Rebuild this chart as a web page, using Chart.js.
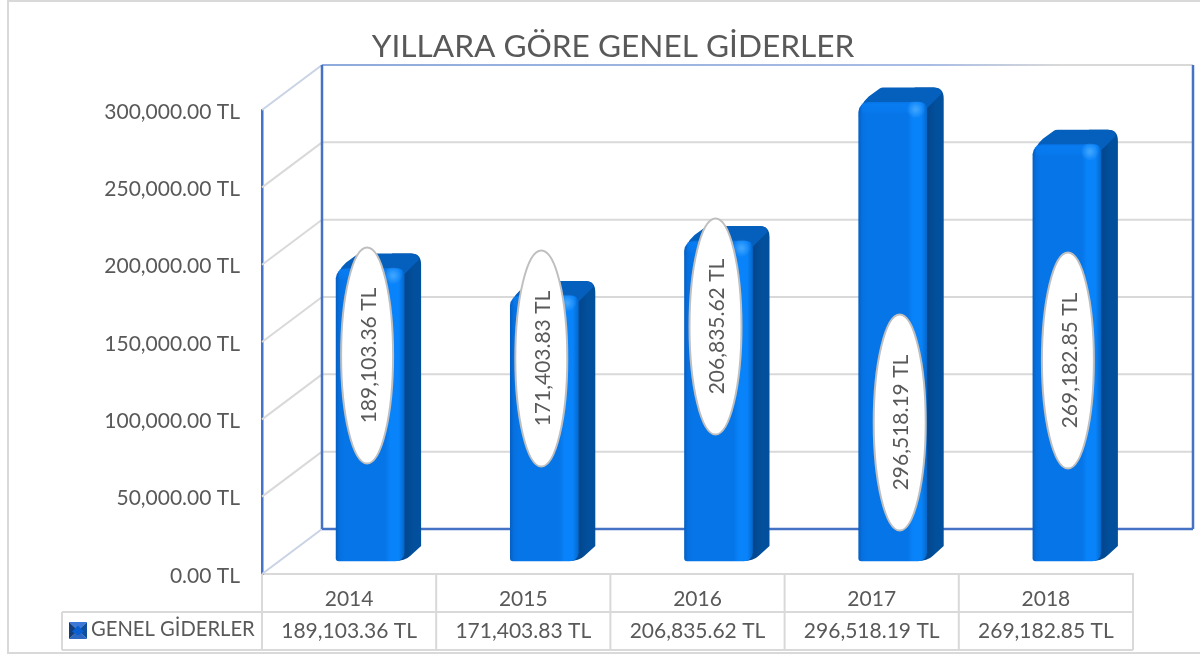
<!DOCTYPE html>
<html>
<head>
<meta charset="utf-8">
<title>Yıllara Göre Genel Giderler</title>
<script src="https://cdn.jsdelivr.net/npm/chart.js@4/dist/chart.umd.min.js"></script>
<style>
	html, body { margin:0; padding:0; background:#fff; }
	canvas { display:block; }
</style>
</head>
<body>
<canvas id="chart" width="1200" height="656"></canvas>
<script>
//data
const titleText = 'YILLARA GÖRE GENEL GİDERLER';
const seriesName = 'GENEL GİDERLER';
const years = ['2014','2015','2016','2017','2018'];
const genelGiderler = [189103.36,171403.83,206835.62,296518.19,269182.85];
const axisMax = 300000;
const axisStep = 50000;

//looks
const fontName = 'Lato, Carlito, sans-serif';
const textColor = '#595959';
const gridColor = '#d9d9d9';
const axisBlue = '#4472c4';
const wallDepth = [60,-45];   //back wall offset from the front axis
const barShift = [21,-13];    //bars stand a bit inside the floor
const barDepth = [17,-15];    //extrusion of each bar
const barWidth = 68;
const labelSize = 21;
const tableFont = labelSize + 'px ' + fontName;
//bubble centres: distance from the category centre, height on the page
const bubbleDx = [18,18,18,28,22];
const bubbleY = [355.5,358.5,326.5,422.5,360.5];

function money(v){
	return v.toLocaleString('en-US',{minimumFractionDigits:2,maximumFractionDigits:2}) + ' TL';
}

function line(ctx,x1,y1,x2,y2,color,width){
	ctx.beginPath();
	ctx.moveTo(x1,y1);
	ctx.lineTo(x2,y2);
	ctx.strokeStyle = color;
	ctx.lineWidth = width;
	ctx.stroke();
}

//back wall and side wall, drawn from the value scale
const wallsPlugin = {
	id:'walls',
	beforeDatasetsDraw(chart){
		const ctx = chart.ctx;
		const y = chart.scales.y;
		const area = chart.chartArea;
		const dx = wallDepth[0];
		const dy = wallDepth[1];
		ctx.save();

		//page frame
		ctx.strokeStyle = gridColor;
		ctx.lineWidth = 2;
		ctx.strokeRect(8,1,1300,652);

		for(let v=axisStep ; v<axisMax ; v+=axisStep){
			const py = y.getPixelForValue(v);
			line(ctx,area.left,py,area.left+dx,py+dy,gridColor,2);
			line(ctx,area.left+dx,py+dy,area.right+dx,py+dy,gridColor,2);
		}

		const top = y.getPixelForValue(axisMax);
		const bottom = y.getPixelForValue(0);
		line(ctx,area.left,top,area.left+dx,top+dy,'#c9d3e6',2);
		line(ctx,area.left,bottom,area.left+dx,bottom+dy,'#c9d3e6',2);

		const topLine = ctx.createLinearGradient(area.left+dx,0,area.right+dx,0);
		topLine.addColorStop(0,'#8faadc');
		topLine.addColorStop(0.7,'#a9bde4');
		topLine.addColorStop(0.85,gridColor);
		topLine.addColorStop(1,gridColor);
		line(ctx,area.left+dx,top+dy,area.right+dx,top+dy,topLine,2);

		line(ctx,area.left+dx,top+dy,area.left+dx,bottom+dy,axisBlue,2.5);
		line(ctx,area.right+dx,top+dy,area.right+dx,bottom+dy,axisBlue,2.5);
		line(ctx,area.left+dx,bottom+dy,area.right+dx,bottom+dy,axisBlue,2.5);
		ctx.restore();
	}
};

//side and top of every bar, the front face is the real bar element
const barBodyPlugin = {
	id:'barBody',
	beforeDatasetDraw(chart,args){
		const ctx = chart.ctx;
		const dx = barDepth[0];
		const dy = barDepth[1];
		ctx.save();
		ctx.translate(barShift[0],barShift[1]);

		args.meta.data.forEach(function(bar){
			const l = bar.x - bar.width/2;
			const r = bar.x + bar.width/2;
			const t = bar.y;
			const b = bar.base;

			//side
			const side = ctx.createLinearGradient(r-3,0,r+dx,0);
			side.addColorStop(0,'#04509f');
			side.addColorStop(0.25,'#03478f');
			side.addColorStop(0.6,'#024f9c');
			side.addColorStop(1,'#02509e');
			ctx.beginPath();
			ctx.moveTo(r-10,b);
			ctx.quadraticCurveTo(r+1,b,r+6,b-5);
			ctx.lineTo(r+dx,b+dy);
			ctx.lineTo(r+dx,t+dy+11);
			ctx.quadraticCurveTo(r+dx,t+dy,r+dx-10,t+dy);
			ctx.lineTo(r-12,t+dy);
			ctx.closePath();
			ctx.fillStyle = side;
			ctx.fill();

			//top
			ctx.beginPath();
			ctx.moveTo(l,t+14);
			ctx.quadraticCurveTo(l,t+3,l+10,t-6);
			ctx.lineTo(l+21,t+dy+1);
			ctx.quadraticCurveTo(l+22,t+dy,l+25,t+dy);
			ctx.lineTo(r+dx-10,t+dy);
			ctx.quadraticCurveTo(r+dx-2,t+dy,r+dx-2,t+dy+6);
			ctx.lineTo(r-2,t+8);
			ctx.closePath();
			ctx.fillStyle = '#055fbc';
			ctx.fill();
		});
	},
	afterDatasetDraw(chart,args){
		const ctx = chart.ctx;
		args.meta.data.forEach(function(bar){
			const r = bar.x + bar.width/2;
			const t = bar.y;
			const l = bar.x - bar.width/2;

			//bevel along the top edge
			const rim = ctx.createLinearGradient(0,t,0,t+12);
			rim.addColorStop(0,'rgba(10,130,250,0.55)');
			rim.addColorStop(0.7,'rgba(10,130,250,0.35)');
			rim.addColorStop(1,'rgba(10,130,250,0)');
			ctx.fillStyle = rim;
			ctx.fillRect(l+3,t+1,bar.width-5,11);

			//corner shine
			const shine = ctx.createRadialGradient(r-11,t+7,1,r-11,t+7,9);
			shine.addColorStop(0,'rgba(70,170,255,0.85)');
			shine.addColorStop(1,'rgba(70,170,255,0)');
			ctx.fillStyle = shine;
			ctx.fillRect(r-20,t-2,18,18);
		});
		ctx.restore();
	}
};

//table under the plot, white bubbles over the bars
const tablePlugin = {
	id:'tableAndBubbles',
	afterDatasetsDraw(chart){
		const ctx = chart.ctx;
		const area = chart.chartArea;
		const x = chart.scales.x;
		const colWidth = area.width/years.length;
		const row1 = area.bottom + 38;
		const row2 = area.bottom + 76;
		ctx.save();

		line(ctx,area.left-200,row1,area.right,row1,gridColor,2);
		line(ctx,area.left-200,row2,area.right,row2,gridColor,2);
		line(ctx,area.left-200,row1,area.left-200,row2,gridColor,2);
		for(let i=0 ; i<=years.length ; i++){
			const px = area.left + colWidth*i;
			line(ctx,px,area.bottom,px,row2,gridColor,2);
		}

		ctx.font = tableFont;
		ctx.fillStyle = textColor;
		ctx.textAlign = 'center';
		ctx.textBaseline = 'middle';
		for(let i=0 ; i<years.length ; i++){
			ctx.fillText(money(genelGiderler[i]),x.getPixelForValue(i),(row1+row2)/2);
		}

		//legend key and series name
		ctx.textAlign = 'left';
		ctx.font = '20.2px ' + fontName;
		ctx.fillText(seriesName,91,(row1+row2)/2-2);
		drawKey(ctx,69,622,18,17);

		//bubbles
		for(let i=0 ; i<years.length ; i++){
			const cx = x.getPixelForValue(i) + bubbleDx[i];
			const cy = bubbleY[i];
			ctx.beginPath();
			ctx.ellipse(cx,cy,26,108,0,0,Math.PI*2);
			ctx.fillStyle = '#ffffff';
			ctx.fill();
			ctx.strokeStyle = '#bfbfbf';
			ctx.lineWidth = 2;
			ctx.stroke();

			ctx.save();
			ctx.translate(cx+2,cy);
			ctx.rotate(-Math.PI/2);
			ctx.font = tableFont;
			ctx.fillStyle = textColor;
			ctx.textAlign = 'center';
			ctx.textBaseline = 'middle';
			ctx.fillText(money(genelGiderler[i]),0,0);
			ctx.restore();
		}
		ctx.restore();
	}
};

function drawKey(ctx,x,y,w,h){
	const cx = x+w/2;
	const cy = y+h/2;
	const faces = [
		['#3b78d8',[x,y],[x+w,y]],
		['#0f4f9e',[x+w,y],[x+w,y+h]],
		['#2a68c4',[x+w,y+h],[x,y+h]],
		['#123f7c',[x,y+h],[x,y]]
	];
	faces.forEach(function(f){
		ctx.beginPath();
		ctx.moveTo(f[1][0],f[1][1]);
		ctx.lineTo(f[2][0],f[2][1]);
		ctx.lineTo(cx,cy);
		ctx.closePath();
		ctx.fillStyle = f[0];
		ctx.fill();
	});
	ctx.fillStyle = '#0a5fd0';
	ctx.beginPath();
	ctx.moveTo(cx,cy-5);
	ctx.lineTo(cx+6,cy+1);
	ctx.lineTo(cx,cy+5);
	ctx.lineTo(cx-6,cy+1);
	ctx.closePath();
	ctx.fill();
}

const lineUp = document.getElementById('chart');

const barChart = new Chart(lineUp,{
	type:'bar',
	data:{
		labels:years,
		datasets:[{
			label:seriesName,
			data:genelGiderler,
			barThickness:barWidth,
			clip:false,
			borderSkipped:false,
			borderRadius:{topLeft:10,topRight:7,bottomLeft:3,bottomRight:9},
			backgroundColor:function(c){
				if(!c.chart.chartArea || c.dataIndex === undefined){
					return '#0675e8';
				}
				const mid = c.chart.scales.x.getPixelForValue(c.dataIndex);
				const g = c.chart.ctx.createLinearGradient(mid-barWidth/2,0,mid+barWidth/2,0);
				g.addColorStop(0,'#0560c4');
				g.addColorStop(0.05,'#0670e0');
				g.addColorStop(0.12,'#0675e8');
				g.addColorStop(0.72,'#0675e8');
				g.addColorStop(0.80,'#0983fa');
				g.addColorStop(0.92,'#0983fa');
				g.addColorStop(1,'#0568cc');
				return g;
			}
		}]
	},
	options:{
		responsive:false,
		animation:false,
		devicePixelRatio:1,
		layout:{
			padding:{left:93,right:67,top:0,bottom:0}
		},
		plugins:{
			legend:{display:false},
			tooltip:{enabled:false},
			title:{
				display:true,
				text:titleText,
				color:textColor,
				font:{family:fontName,size:31.6,weight:'normal',lineHeight:1.2},
				padding:{top:28,bottom:44.1}
			}
		},
		scales:{
			x:{
				grid:{display:false},
				border:{color:gridColor,width:2},
				ticks:{
					color:textColor,
					font:{family:fontName,size:labelSize},
					padding:5
				},
				afterFit:function(scale){ scale.height = 82; }
			},
			y:{
				min:0,
				max:axisMax,
				grid:{display:false},
				border:{color:axisBlue,width:2.5},
				ticks:{
					stepSize:axisStep,
					color:textColor,
					font:{family:fontName,size:labelSize},
					padding:14,
					labelOffset:2,
					callback:function(v){ return money(v); }
				},
				afterFit:function(scale){ scale.width = 169; }
			}
		}
	},
	plugins:[wallsPlugin,barBodyPlugin,tablePlugin]
});
</script>
</body>
</html>
